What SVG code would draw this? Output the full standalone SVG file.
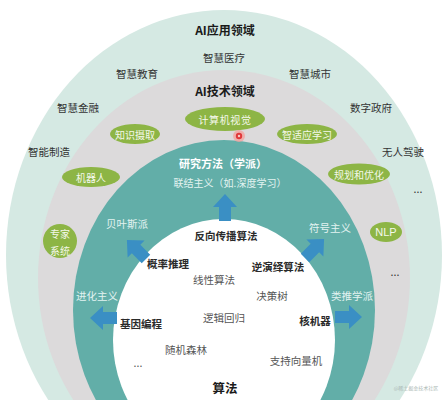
<svg xmlns="http://www.w3.org/2000/svg" width="448" height="400" viewBox="0 0 448 400">
<style>
text{font-family:"Noto Sans CJK SC","Liberation Sans",sans-serif;text-anchor:middle;dominant-baseline:central}
.h{font-size:12px;font-weight:bold;fill:#1a1a1a}
.app{font-size:10.5px;fill:#333}
.tech{font-size:10px;fill:#f4f8ea}
.pill{fill:#8db545}
.pale{font-size:10.5px;fill:#e2f3f1}
.alg{font-size:10.5px;font-weight:bold;fill:#2a2a2a}
.alg2{font-size:10.5px;fill:#555}
.arr{fill:#3a8fc4}
</style>
<defs>
<path id="ar" d="M0,-6 L14,-6 L14,-12 L27,0 L14,12 L14,6 L0,6 Z"/>
</defs>
<rect width="448" height="400" fill="#ffffff"/>
<g id="rings">
<ellipse cx="224" cy="255" rx="218" ry="245" fill="#d5e9e3"/>
<ellipse cx="224" cy="278" rx="186" ry="208" fill="#dcdadb"/>
<ellipse cx="224" cy="310" rx="151" ry="170" fill="#62aea8"/>
<ellipse cx="224" cy="340" rx="111" ry="121" fill="#ffffff"/>
</g>
<g id="app-domain">
<text class="h" x="225" y="29">AI应用领域</text>
<text class="app" x="224" y="57">智慧医疗</text>
<text class="app" x="137" y="73">智慧教育</text>
<text class="app" x="310" y="73">智慧城市</text>
<text class="app" x="78" y="107">智慧金融</text>
<text class="app" x="371" y="107">数字政府</text>
<text class="app" x="49" y="151">智能制造</text>
<text class="app" x="403" y="151">无人驾驶</text>
<text class="app" x="418" y="188">...</text>
<text class="app" x="395" y="271">...</text>
</g>
<g id="tech-domain">
<text class="h" x="225" y="90">AI技术领域</text>
</g>
<g id="node-cv"><ellipse class="pill" cx="225" cy="119" rx="40" ry="12"/><text class="tech" x="225" y="119" style="letter-spacing:0.6px">计算机视觉</text></g>
<g id="node-ke"><ellipse class="pill" cx="135" cy="134" rx="25" ry="10"/><text class="tech" x="135" y="134">知识摄取</text></g>
<g id="node-al"><ellipse class="pill" cx="307" cy="134" rx="30" ry="10"/><text class="tech" x="307" y="134">智适应学习</text></g>
<g id="node-robot"><ellipse class="pill" cx="91" cy="177" rx="29" ry="10"/><text class="tech" x="91" y="177">机器人</text></g>
<g id="node-plan"><ellipse class="pill" cx="359" cy="174" rx="31" ry="10.5"/><text class="tech" x="359" y="174">规划和优化</text></g>
<g id="node-expert"><circle class="pill" cx="60" cy="241" r="17"/><text class="tech" x="60" y="233">专家</text><text class="tech" x="60" y="250">系统</text></g>
<g id="node-nlp"><ellipse class="pill" cx="386" cy="232" rx="16" ry="10"/><text class="tech" x="386" y="232" style="font-family:'Liberation Sans',sans-serif;font-size:11px;fill:#f4f8ea">NLP</text></g>
<g id="marker-dot"><circle cx="239" cy="136" r="6" fill="#f2a4a0" opacity="0.8"/><circle cx="239" cy="136" r="3.2" fill="#e0393a"/><circle cx="239" cy="136" r="1.2" fill="#f6c9c6"/></g>
<g id="methods">
<text x="223" y="163" style="font-size:11px;font-weight:bold;fill:#ffffff">研究方法（学派）</text>
<text class="pale" x="230" y="182" style="font-size:10px">联结主义（如.深度学习）</text>
<text class="pale" x="127" y="223">贝叶斯派</text>
<text class="pale" x="330" y="227">符号主义</text>
<text class="pale" x="97" y="295">进化主义</text>
<text class="pale" x="352" y="295">类推学派</text>
</g>
<g id="connectors">
<use href="#ar" class="arr" transform="translate(225,221) rotate(-90)"/>
<use href="#ar" class="arr" transform="translate(146,259) rotate(-135)"/>
<use href="#ar" class="arr" transform="translate(305,258) rotate(-45)"/>
<use href="#ar" class="arr" transform="translate(117,318) rotate(180)"/>
<use href="#ar" class="arr" transform="translate(335,317)"/>
</g>
<g id="algorithms">
<text class="alg" x="226" y="235">反向传播算法</text>
<text class="alg" x="168" y="263">概率推理</text>
<text class="alg" x="278" y="266">逆演绎算法</text>
<text class="alg2" x="214" y="279">线性算法</text>
<text class="alg2" x="272" y="295">决策树</text>
<text class="alg" x="141" y="323">基因编程</text>
<text class="alg2" x="224" y="317">逻辑回归</text>
<text class="alg" x="315" y="320">核机器</text>
<text class="alg2" x="186" y="349">随机森林</text>
<text class="alg2" x="138" y="362">...</text>
<text class="alg2" x="296" y="360">支持向量机</text>
<text x="225" y="387" style="font-size:12.5px;font-weight:bold;fill:#1a1a1a">算法</text>
</g>
<g id="watermark">
<text x="416" y="387" style="font-size:5px;fill:#aab8b4">@稀土掘金技术社区</text>
</g>
</svg>
